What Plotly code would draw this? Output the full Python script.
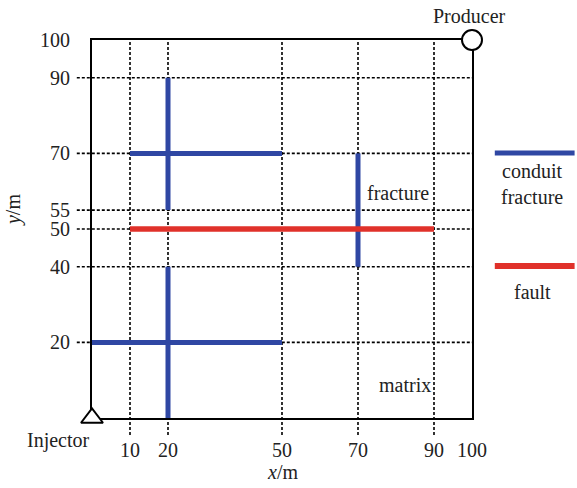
import plotly.graph_objects as go

# Data
conduit_segments = [  # (x0, y0, x1, y1)
    (10, 70, 50, 70),
    (20, 55, 20, 90),
    (70, 40, 70, 70),
    (0, 20, 50, 20),
    (20, 0, 20, 40),
]
fault_segments = [(10, 50, 90, 50)]
x_grid = [10, 20, 50, 70, 90]
y_grid = [20, 40, 50, 55, 70, 90]
x_ticks = [10, 20, 50, 70, 90, 100]
y_ticks = [20, 40, 50, 55, 70, 90, 100]
producer = (100, 100)
injector = (0, 0)

BLUE = "#2f47a3"
RED = "#e0312a"
FONT = "Liberation Serif"
FS = 20

fig = go.Figure()

for (x0, y0, x1, y1) in conduit_segments:
    fig.add_trace(go.Scatter(x=[x0, x1], y=[y0, y1], mode="lines",
                             line=dict(color=BLUE, width=5), showlegend=False,
                             hoverinfo="skip"))
for (x0, y0, x1, y1) in fault_segments:
    fig.add_trace(go.Scatter(x=[x0, x1], y=[y0, y1], mode="lines",
                             line=dict(color=RED, width=5.5), showlegend=False,
                             hoverinfo="skip"))

fig.add_trace(go.Scatter(x=[producer[0]], y=[producer[1]], mode="markers",
                         marker=dict(symbol="circle", size=20, color="white",
                                     line=dict(color="black", width=2)),
                         cliponaxis=False, showlegend=False, hoverinfo="skip"))
fig.add_trace(go.Scatter(x=[injector[0]], y=[injector[1]], mode="markers",
                         marker=dict(symbol="triangle-up", size=19, color="white",
                                     line=dict(color="black", width=2)),
                         cliponaxis=False, showlegend=False, hoverinfo="skip"))

shapes = []
for xv in x_grid:
    shapes.append(dict(type="line", xref="x", yref="paper", x0=xv, x1=xv,
                       y0=-0.045, y1=1, layer="below",
                       line=dict(color="black", width=1.6, dash="3px,2px")))
for yv in y_grid:
    shapes.append(dict(type="line", xref="paper", yref="y", y0=yv, y1=yv,
                       x0=-0.04, x1=1, layer="below",
                       line=dict(color="black", width=1.6, dash="3px,2px")))
# legend lines
shapes.append(dict(type="line", xref="paper", yref="paper", x0=1.06, x1=1.27,
                   y0=0.701, y1=0.701, line=dict(color=BLUE, width=5)))
shapes.append(dict(type="line", xref="paper", yref="paper", x0=1.06, x1=1.27,
                   y0=0.402, y1=0.402, line=dict(color=RED, width=6)))

def ann(text, x, y, xref="paper", yref="paper", **kw):
    d = dict(text=text, x=x, y=y, xref=xref, yref=yref, showarrow=False,
             xanchor="center", yanchor="middle", font=dict(size=FS))
    d.update(kw)
    return d

annotations = [
    ann("Producer", producer[0], producer[1], "x", "y", yshift=24, xshift=-3),
    ann("Injector", injector[0], injector[1], "x", "y", yshift=-22, xshift=-34),
    ann("fracture", 80.5, 59.5, "x", "y"),
    ann("matrix", 82.4, 8.7, "x", "y"),
    ann("<i>x</i>/m", 0.5, -0.142),
    ann("<i>y</i>/m", -0.208, 0.55, textangle=-90),
    ann("conduit<br>fracture", 1.158, 0.618),
    ann("fault", 1.158, 0.333),
]

fig.update_layout(
    width=577, height=488,
    margin=dict(l=92, r=105, t=40, b=70),
    paper_bgcolor="white", plot_bgcolor="white",
    font=dict(family=FONT, size=FS, color="#222222"),
    shapes=shapes, annotations=annotations,
    xaxis=dict(range=[0, 100], tickvals=x_ticks, ticktext=[str(v) for v in x_ticks],
               showgrid=False, zeroline=False, showline=True, mirror=True,
               linecolor="black", linewidth=2, ticks="", ticklabelstandoff=13,
               layer="below traces", fixedrange=True),
    yaxis=dict(range=[0, 100], tickvals=y_ticks, ticktext=[str(v) for v in y_ticks],
               showgrid=False, zeroline=False, showline=True, mirror=True,
               linecolor="black", linewidth=2, ticks="", ticklabelstandoff=16,
               layer="below traces", fixedrange=True),
)

fig.write_html("out.html")
